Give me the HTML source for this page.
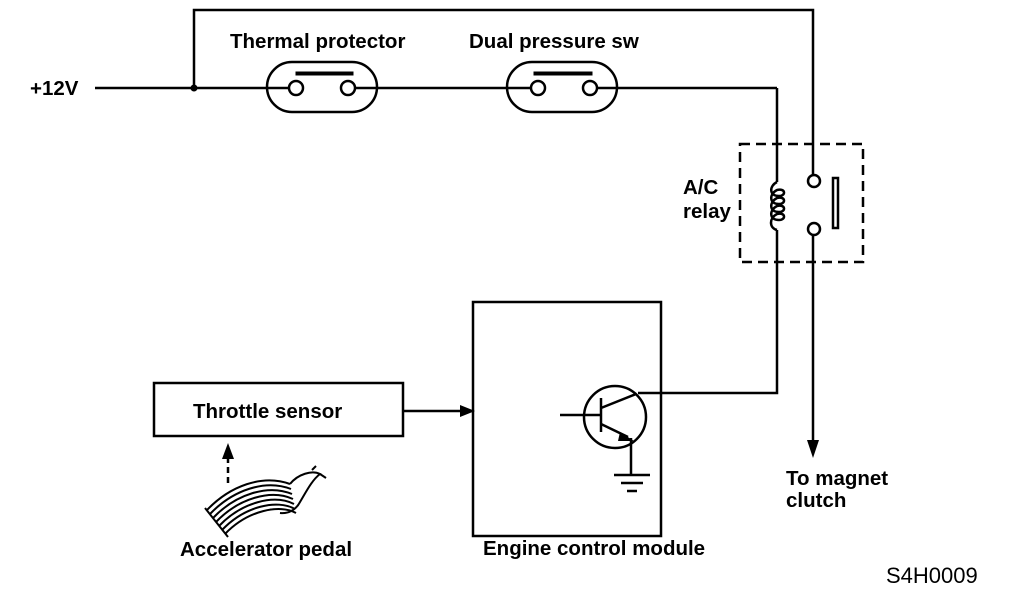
<!DOCTYPE html>
<html><head><style>
body{margin:0;background:#fff;}
svg{display:block;}
text{font-family:"Liberation Sans",Arial,sans-serif;font-size:20.5px;fill:#000;font-weight:bold;}
</style></head><body>
<svg width="1024" height="594" viewBox="0 0 1024 594" xmlns="http://www.w3.org/2000/svg">
<g stroke="#000" stroke-width="2.5" fill="none">
<polyline points="194,88 194,10 813,10 813,174"/>
<line x1="95" y1="88" x2="289" y2="88"/>
<line x1="355" y1="88" x2="531" y2="88"/>
<line x1="597" y1="88" x2="777" y2="88"/>
<polyline points="777,88 777,182"/>
<polyline points="777,230 777,393 638,393"/>
<rect x="267" y="62" width="110" height="50" rx="25"/>
<circle cx="296" cy="88" r="7"/>
<circle cx="348" cy="88" r="7"/>
<rect x="296" y="72" width="57" height="3" fill="#000" stroke-width="1"/>
<rect x="507" y="62" width="110" height="50" rx="25"/>
<circle cx="538" cy="88" r="7"/>
<circle cx="590" cy="88" r="7"/>
<rect x="534" y="72" width="58" height="3" fill="#000" stroke-width="1"/>
<rect x="740" y="144" width="123" height="118" stroke-dasharray="10,6"/>
<path d="M777,182 C768,184 768,192 777,194 C786,196 786,204 777,206 C768,208 768,216 777,218 C786,220 786,228 777,230" stroke-width="0"/>
<path d="M777,182 C769,186 769,196 779,196 C786,196 786,188 777,190 C769,194 769,204 779,204 C786,204 786,196 777,198 C769,202 769,212 779,212 C786,212 786,204 777,206 C769,210 769,220 779,220 C786,220 786,212 777,214 C769,218 769,228 777,230"/>
<circle cx="814" cy="181" r="6"/>
<circle cx="814" cy="229" r="6"/>
<rect x="833" y="178" width="5" height="50"/>
<line x1="813" y1="235" x2="813" y2="440"/>
<rect x="473" y="302" width="188" height="234"/>
<rect x="154" y="383" width="249" height="53"/>
<line x1="403" y1="411" x2="460" y2="411"/>
<circle cx="615" cy="417" r="31"/>
<line x1="560" y1="415" x2="600" y2="415"/>
<line x1="601" y1="398" x2="601" y2="432"/>
<line x1="601" y1="408" x2="636" y2="394"/>
<line x1="601" y1="424" x2="628" y2="437"/>
<line x1="631" y1="438" x2="631" y2="475"/>
<line x1="614" y1="475" x2="650" y2="475"/>
<line x1="621" y1="483" x2="643" y2="483"/>
<line x1="627" y1="491" x2="637" y2="491"/>
<line x1="228" y1="483" x2="228" y2="458" stroke-dasharray="6,4"/>
</g>
<circle cx="194" cy="88" r="3.5" fill="#000"/>
<polygon points="460,405 475,411 460,417" fill="#000"/>
<polygon points="620,432 634,441 618,441" fill="#000"/>
<polygon points="807,440 819,440 813,458" fill="#000"/>
<polygon points="222,459 234,459 228,443" fill="#000"/>
<g stroke="#000" stroke-width="2" fill="none">
<path d="M207,510 C230,486 262,474 290,484"/>
<path d="M210,514 C233,490 265,479 291,489"/>
<path d="M213,518 C236,494 268,484 292,494"/>
<path d="M216,522 C239,498 271,489 293,499"/>
<path d="M219,526 C242,502 274,494 294,504"/>
<path d="M222,530 C245,506 277,499 295,509"/>
<path d="M225,534 C248,510 280,504 296,513"/>
<path d="M228,537 L205,508"/>
<path d="M290,484 C298,474 312,470 320,474 C312,480 306,492 300,502 C296,510 288,514 280,513"/>
<path d="M312,470 L316,466 M320,474 L326,478"/>
</g>
<text x="30" y="95">+12V</text>
<text x="230" y="48">Thermal protector</text>
<text x="469" y="48">Dual pressure sw</text>
<text x="683" y="194">A/C</text>
<text x="683" y="218">relay</text>
<text x="193" y="418">Throttle sensor</text>
<text x="180" y="556">Accelerator pedal</text>
<text x="483" y="555">Engine control module</text>
<text x="786" y="485">To magnet</text>
<text x="786" y="507">clutch</text>
<text x="886" y="583" style="font-weight:normal;font-size:22px">S4H0009</text>
</svg>
</body></html>
